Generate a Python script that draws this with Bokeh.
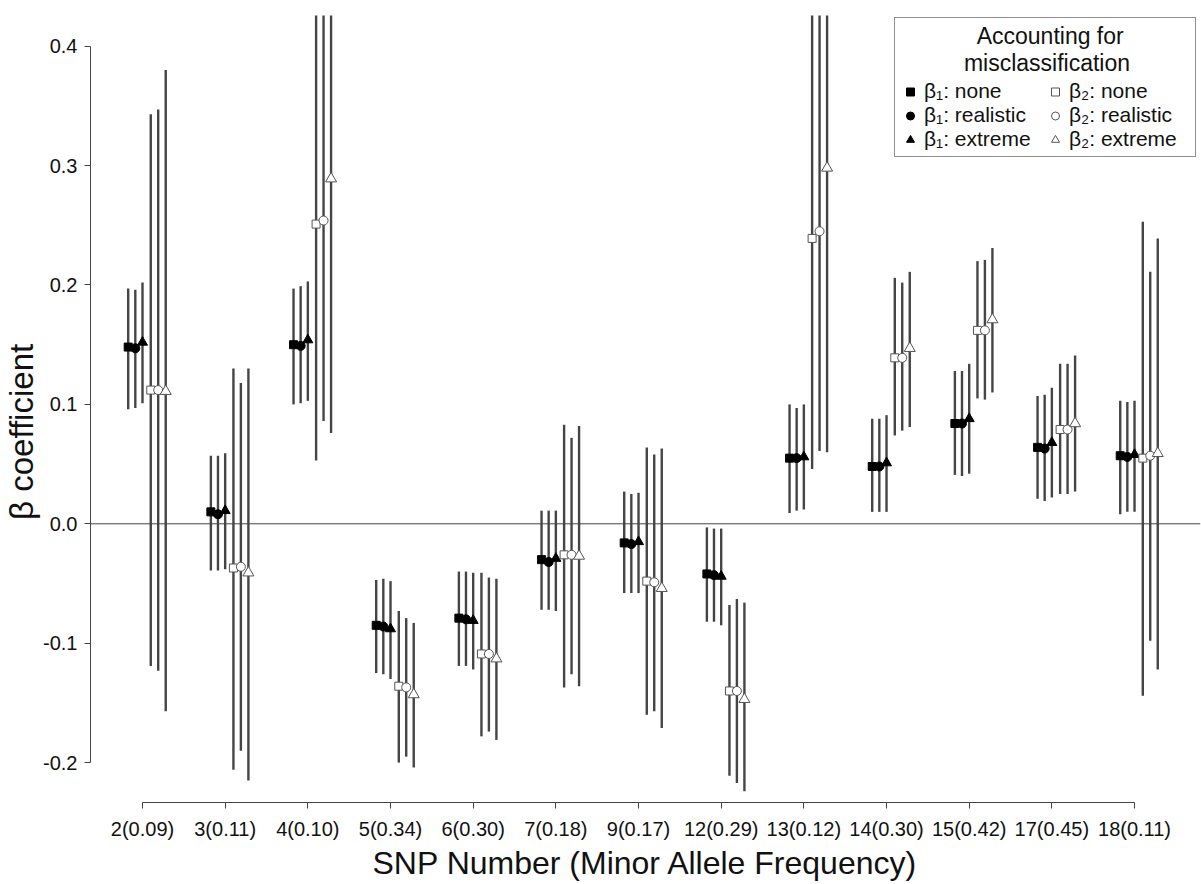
from bokeh.plotting import figure
from bokeh.models import (ColumnDataSource, Range1d, FixedTicker, Span, Legend,
                          LegendItem, NumeralTickFormatter)
from bokeh.transform import dodge
from bokeh.embed import file_html
from bokeh.resources import INLINE

# ---------------- data ----------------
snp_labels = ["2(0.09)", "3(0.11)", "4(0.10)", "5(0.34)", "6(0.30)", "7(0.18)",
              "9(0.17)", "12(0.29)", "13(0.12)", "14(0.30)", "15(0.42)",
              "17(0.45)", "18(0.11)"]
snp_pos = list(range(1, len(snp_labels) + 1))

b1_none_est = [0.148, 0.010, 0.150, -0.085, -0.079, -0.030, -0.016, -0.042, 0.055, 0.048, 0.084, 0.064, 0.057]
b1_none_lo = [0.096, -0.039, 0.100, -0.125, -0.119, -0.072, -0.058, -0.082, 0.009, 0.010, 0.041, 0.021, 0.008]
b1_none_hi = [0.197, 0.057, 0.197, -0.047, -0.040, 0.011, 0.027, -0.003, 0.100, 0.088, 0.128, 0.107, 0.103]

b1_real_est = [0.147, 0.008, 0.149, -0.086, -0.080, -0.032, -0.017, -0.043, 0.055, 0.048, 0.084, 0.063, 0.056]
b1_real_lo = [0.097, -0.039, 0.101, -0.126, -0.119, -0.072, -0.058, -0.082, 0.011, 0.010, 0.040, 0.019, 0.010]
b1_real_hi = [0.196, 0.057, 0.199, -0.046, -0.040, 0.011, 0.025, -0.004, 0.097, 0.088, 0.128, 0.108, 0.102]

b1_ext_est = [0.152, 0.011, 0.154, -0.088, -0.081, -0.029, -0.015, -0.044, 0.056, 0.051, 0.088, 0.068, 0.058]
b1_ext_lo = [0.101, -0.038, 0.103, -0.130, -0.122, -0.073, -0.058, -0.085, 0.012, 0.010, 0.042, 0.022, 0.010]
b1_ext_hi = [0.202, 0.059, 0.203, -0.048, -0.041, 0.011, 0.026, -0.004, 0.100, 0.091, 0.134, 0.114, 0.103]

b2_none_est = [0.112, -0.037, 0.251, -0.136, -0.109, -0.026, -0.048, -0.140, 0.239, 0.139, 0.162, 0.079, 0.055]
b2_none_lo = [-0.119, -0.206, 0.053, -0.200, -0.178, -0.137, -0.160, -0.211, 0.046, 0.074, 0.105, 0.025, -0.144]
b2_none_hi = [0.343, 0.130, 0.46, -0.073, -0.041, 0.083, 0.064, -0.068, 0.45, 0.206, 0.220, 0.134, 0.253]

b2_real_est = [0.112, -0.036, 0.254, -0.137, -0.109, -0.026, -0.049, -0.140, 0.245, 0.139, 0.162, 0.079, 0.057]
b2_real_lo = [-0.123, -0.190, 0.086, -0.195, -0.174, -0.126, -0.157, -0.217, 0.061, 0.078, 0.104, 0.025, -0.098]
b2_real_hi = [0.347, 0.118, 0.47, -0.079, -0.045, 0.072, 0.058, -0.063, 0.46, 0.202, 0.221, 0.134, 0.211]

b2_ext_est = [0.111, -0.041, 0.289, -0.143, -0.113, -0.027, -0.054, -0.147, 0.298, 0.147, 0.171, 0.084, 0.059]
b2_ext_lo = [-0.157, -0.215, 0.076, -0.204, -0.181, -0.136, -0.171, -0.224, 0.060, 0.081, 0.110, 0.027, -0.122]
b2_ext_hi = [0.380, 0.130, 0.50, -0.083, -0.046, 0.082, 0.063, -0.066, 0.52, 0.211, 0.231, 0.141, 0.239]

series_labels = ["β₁: none", "β₁: realistic", "β₁: extreme",
                 "β₂: none", "β₂: realistic", "β₂: extreme"]
legend_title = ["Accounting for", "misclassification"]
y_ticks = [-0.2, -0.1, 0.0, 0.1, 0.2, 0.3, 0.4]

# ---------------- styling ----------------
FONT = "Liberation Sans"
TXT = "#111111"
BAR = "#454545"
OPEN = "#555555"
NB = "\u00a0"

series = [
    (b1_none_est, b1_none_lo, b1_none_hi, "square", 8, "black", "black", -0.173),
    (b1_real_est, b1_real_lo, b1_real_hi, "circle", 9, "black", "black", -0.087),
    (b1_ext_est, b1_ext_lo, b1_ext_hi, "triangle", 10, "black", "black", 0.0),
    (b2_none_est, b2_none_lo, b2_none_hi, "square", 8, OPEN, "white", 0.100),
    (b2_real_est, b2_real_lo, b2_real_hi, "circle", 9, OPEN, "white", 0.190),
    (b2_ext_est, b2_ext_lo, b2_ext_hi, "triangle", 11, OPEN, "white", 0.281),
]

p = figure(width=1201, height=884, output_backend="svg", toolbar_location=None,
           x_range=Range1d(0.371, 13.798), y_range=Range1d(-0.2334, 0.4257),
           min_border_left=90, min_border_right=1, min_border_top=15,
           min_border_bottom=82)
p.xgrid.visible = False
p.ygrid.visible = False
p.outline_line_color = None
p.background_fill_color = "white"

p.add_layout(Span(location=0, dimension="width", line_color="#444444", line_width=1))

sources = []
for est, lo, hi, marker, size, lc, fc, off in series:
    src = ColumnDataSource(dict(pos=snp_pos, est=est, lo=lo, hi=hi))
    sources.append(src)
    p.segment(x0=dodge("pos", off), x1=dodge("pos", off), y0="lo", y1="hi",
              source=src, line_color=BAR, line_width=2.4)

marker_renderers = []
for (est, lo, hi, marker, size, lc, fc, off), src in zip(series, sources):
    r = p.scatter(x=dodge("pos", off), y="est", source=src, marker=marker,
                  size=size, line_color=lc, fill_color=fc, line_width=1)
    marker_renderers.append(r)

# axes
p.yaxis.bounds = (-0.2, 0.4)
p.yaxis.ticker = FixedTicker(ticks=y_ticks)
p.yaxis.formatter = NumeralTickFormatter(format="0.0")
# trailing non-breaking spaces shift the centred label down as in the original
p.yaxis.axis_label = "β coefficient" + NB * 5
p.yaxis.major_label_standoff = 7
p.yaxis.axis_label_standoff = 0

p.xaxis.bounds = (snp_pos[0], snp_pos[-1])
p.xaxis.ticker = FixedTicker(ticks=snp_pos)
p.xaxis.major_label_overrides = {pos: lab for pos, lab in zip(snp_pos, snp_labels)}
p.xaxis.axis_label = "SNP Number (Minor Allele Frequency)"
p.xaxis.major_label_standoff = 9
p.xaxis.axis_label_standoff = 2

for ax in (p.xaxis, p.yaxis):
    ax.axis_line_color = "#444444"
    ax.axis_line_width = 1
    ax.major_tick_line_color = "#444444"
    ax.major_tick_out = 6
    ax.major_tick_in = 0
    ax.minor_tick_line_color = None
    ax.major_label_text_font = FONT
    ax.major_label_text_font_size = "20px"
    ax.major_label_text_color = TXT
    ax.axis_label_text_font = FONT
    ax.axis_label_text_font_style = "normal"
    ax.axis_label_text_color = TXT
p.xaxis.axis_label_text_font_size = "32px"
p.yaxis.axis_label_text_font_size = "33px"

title_text = NB * 12 + legend_title[0] + "\n" + NB * 10 + legend_title[1]

legend = Legend(
    items=[LegendItem(label=lab, renderers=[r]) for lab, r in zip(series_labels, marker_renderers)],
    location=(804, 645), ncols=2,
    title=title_text,
    title_text_font=FONT, title_text_font_size="23px", title_text_font_style="normal",
    title_text_color=TXT, title_text_line_height=1.26, title_standoff=2,
    label_text_font=FONT, label_text_font_size="21px", label_text_color=TXT,
    glyph_width=20, glyph_height=23, label_height=20, label_standoff=4,
    label_width=121, spacing=0, padding=5, margin=0,
    border_line_color="#222222", border_line_width=1.5,
    background_fill_color="white", background_fill_alpha=1.0,
)
p.add_layout(legend)

open("out.html", "w").write(file_html(p, INLINE))
